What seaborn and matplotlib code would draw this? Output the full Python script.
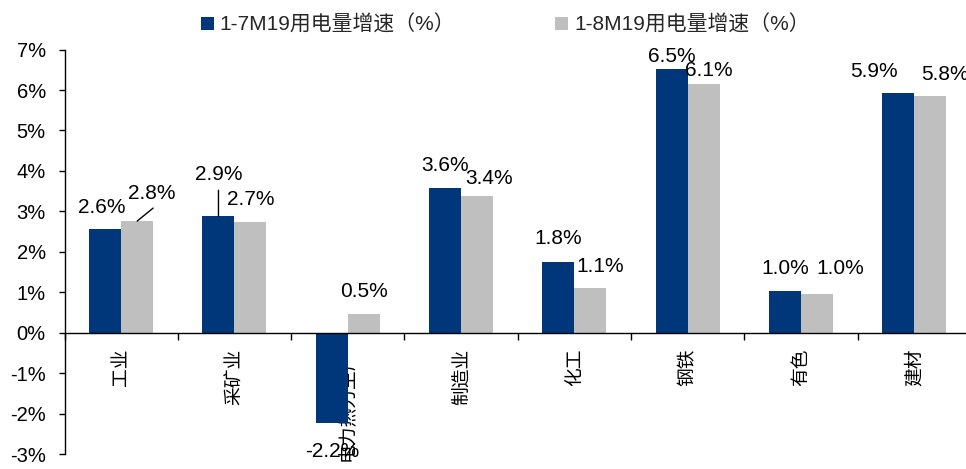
import numpy as np
import pandas as pd
import seaborn as sns
import matplotlib
matplotlib.use("Agg")
import matplotlib.pyplot as plt
from matplotlib.patches import Patch

# ---------------- data ----------------
categories = ['工业', '采矿业', '电力热力生产', '制造业', '化工', '钢铁', '有色', '建材']
series_names = ['1-7M19用电量增速（%）', '1-8M19用电量增速（%）']
growth_7m = [2.56, 2.88, -2.24, 3.58, 1.76, 6.51, 1.02, 5.93]
growth_8m = [2.76, 2.74, 0.47, 3.37, 1.10, 6.14, 0.96, 5.85]
y_ticks = [-3, -2, -1, 0, 1, 2, 3, 4, 5, 6, 7]

# ---------------- style ----------------
navy = '#00377A'
gray = '#BFBFBF'
sns.set_theme(style='white')
plt.rcParams['font.family'] = ['Liberation Sans', 'Noto Sans CJK SC', 'DejaVu Sans']
plt.rcParams['axes.unicode_minus'] = False

# label offsets in pixels (dx, dy up) relative to bar end, per series
offsets_7m = [(-3, 21.5), (0, 42), (0, -28), (0, 22.5), (0, 22.7), (0, 13.3), (0, 23), (-24, 21.3)]
offsets_8m = [(15, 28), (0, 22.5), (0, 22.3), (12, 17.5), (10, 21.7), (5, 14), (23, 25), (15, 21.7)]
# leader line end offsets in pixels (None = no leader)
leader_7m = [None, (0, 26), None, None, None, None, None, None]
leader_8m = [(16, 13), None, None, None, None, None, None, None]

df = pd.DataFrame({
    '行业': categories * 2,
    '系列': [series_names[0]] * len(categories) + [series_names[1]] * len(categories),
    '增速': growth_7m + growth_8m,
})

fig, ax = plt.subplots(figsize=(9.66, 4.69), dpi=100)
fig.subplots_adjust(left=64.5 / 966, right=971 / 966, bottom=(469 - 454) / 469, top=(469 - 49.6) / 469)

sns.barplot(data=df, x='行业', y='增速', hue='系列', order=categories,
            hue_order=series_names, palette=[navy, gray], width=0.565, gap=0,
            saturation=1, errorbar=None, legend=False, ax=ax, linewidth=0)

ax.set_ylim(-3, 7)
ax.set_xlim(-0.5, len(categories) - 0.5)
ax.set_yticks(y_ticks)
ax.set_yticklabels([f'{t}%' for t in y_ticks], fontsize=14.5, family=['Liberation Sans'])
ax.set_xlabel('')
ax.set_ylabel('')

# x axis at zero
ax.spines['bottom'].set_position(('data', 0))
ax.spines['top'].set_visible(False)
ax.spines['right'].set_visible(False)
for s in ['left', 'bottom']:
    ax.spines[s].set_color('black')
    ax.spines[s].set_linewidth(1.0)

ax.set_xticks(range(len(categories)))
ax.set_xticklabels(categories, rotation=90, fontsize=13.5,
                   family=['Noto Sans CJK SC'], fontweight='light')
ax.set_xticks(np.arange(-0.5, len(categories), 1), minor=True)
ax.tick_params(axis='x', which='major', length=0, pad=11.5, colors='black')
ax.tick_params(axis='x', which='minor', length=5, width=1, direction='out', color='black', bottom=True)
ax.tick_params(axis='y', which='major', length=4, width=1, direction='out', left=True,
               color='black', labelcolor='black', pad=9.5)
ax.grid(False)

# data labels
px2pt = 72 / fig.dpi
for cont, offs, leads in zip(ax.containers, [offsets_7m, offsets_8m], [leader_7m, leader_8m]):
    for p, (dx, dy), lead in zip(cont.patches, offs, leads):
        xc = p.get_x() + p.get_width() / 2
        val = p.get_height()
        ax.annotate(f'{val:.1f}%', xy=(xc, val), xytext=(dx * px2pt, dy * px2pt),
                    textcoords='offset points', ha='center', va='center',
                    fontsize=15, color='black', zorder=5)
        if lead is not None:
            ax.annotate('', xy=(xc, val), xytext=(lead[0] * px2pt, lead[1] * px2pt),
                        textcoords='offset points',
                        arrowprops=dict(arrowstyle='-', color='black', lw=1.0,
                                        shrinkA=0, shrinkB=0), zorder=5)

# legend
handles = [Patch(facecolor=navy, edgecolor='none'), Patch(facecolor=gray, edgecolor='none')]
fig.legend(handles, series_names, ncol=2, loc='center', bbox_to_anchor=(505.5 / 966, 1 - 25 / 469),
           frameon=False, fontsize=15, handlelength=0.6, handleheight=0.6,
           handletextpad=0.3, columnspacing=4.8)

fig.savefig('out.png', dpi=100)
